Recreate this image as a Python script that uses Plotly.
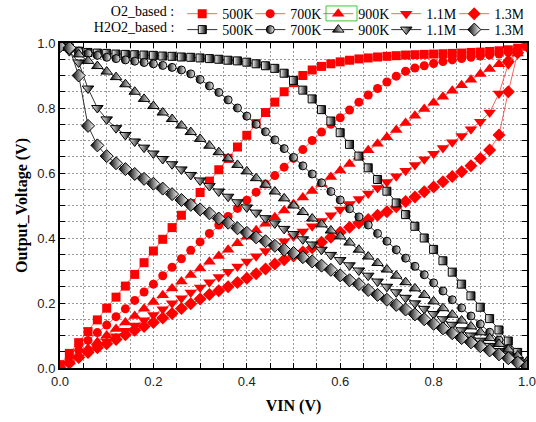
import plotly.graph_objects as go

vin = [0.00, 0.02, 0.04, 0.06, 0.08, 0.10, 0.12, 0.14, 0.16, 0.18,
       0.20, 0.22, 0.24, 0.26, 0.28, 0.30, 0.32, 0.34, 0.36, 0.38,
       0.40, 0.42, 0.44, 0.46, 0.48, 0.50, 0.52, 0.54, 0.56, 0.58,
       0.60, 0.62, 0.64, 0.66, 0.68, 0.70, 0.72, 0.74, 0.76, 0.78,
       0.80, 0.82, 0.84, 0.86, 0.88, 0.90, 0.92, 0.94, 0.96, 0.98, 1.00]

series_names = ["500K", "700K", "900K", "1.1M", "1.3M"]

o2_500k = [0.010, 0.045, 0.078, 0.112, 0.148, 0.184, 0.218, 0.252, 0.288, 0.324,
           0.360, 0.396, 0.432, 0.470, 0.506, 0.540, 0.575, 0.610, 0.645, 0.680,
           0.716, 0.752, 0.786, 0.818, 0.850, 0.878, 0.900, 0.917, 0.928, 0.936,
           0.942, 0.947, 0.951, 0.954, 0.957, 0.959, 0.961, 0.963, 0.964, 0.965,
           0.966, 0.967, 0.968, 0.969, 0.971, 0.972, 0.974, 0.976, 0.979, 0.984, 0.990]
o2_700k = [0.010, 0.030, 0.055, 0.085, 0.109, 0.132, 0.158, 0.182, 0.208, 0.234,
           0.258, 0.284, 0.310, 0.336, 0.362, 0.388, 0.414, 0.440, 0.466, 0.491,
           0.516, 0.541, 0.566, 0.592, 0.618, 0.645, 0.672, 0.700, 0.726, 0.750,
           0.770, 0.794, 0.818, 0.840, 0.860, 0.880, 0.898, 0.913, 0.923, 0.930,
           0.937, 0.943, 0.948, 0.952, 0.956, 0.960, 0.963, 0.966, 0.972, 0.982, 0.990]
o2_900k = [0.000, 0.020, 0.040, 0.060, 0.080, 0.100, 0.120, 0.140, 0.160, 0.182,
           0.203, 0.224, 0.245, 0.266, 0.286, 0.306, 0.327, 0.345, 0.364, 0.384,
           0.404, 0.424, 0.444, 0.464, 0.485, 0.505, 0.525, 0.545, 0.566, 0.588,
           0.608, 0.628, 0.650, 0.670, 0.690, 0.710, 0.732, 0.754, 0.776, 0.797,
           0.816, 0.835, 0.853, 0.870, 0.887, 0.905, 0.920, 0.935, 0.950, 0.968, 0.990]
o2_1_1m = [0.000, 0.015, 0.032, 0.048, 0.065, 0.082, 0.098, 0.115, 0.131, 0.147,
           0.163, 0.181, 0.199, 0.215, 0.232, 0.248, 0.264, 0.280, 0.296, 0.312,
           0.328, 0.344, 0.360, 0.375, 0.390, 0.405, 0.420, 0.436, 0.452, 0.470,
           0.488, 0.505, 0.520, 0.537, 0.554, 0.572, 0.590, 0.607, 0.625, 0.642,
           0.659, 0.677, 0.695, 0.714, 0.735, 0.758, 0.786, 0.845, 0.935, 0.975, 0.990]
o2_1_3m = [0.000, 0.015, 0.032, 0.048, 0.062, 0.075, 0.088, 0.102, 0.116, 0.128,
           0.140, 0.154, 0.168, 0.183, 0.198, 0.212, 0.226, 0.238, 0.250, 0.263,
           0.276, 0.290, 0.305, 0.320, 0.333, 0.345, 0.357, 0.370, 0.387, 0.402,
           0.418, 0.433, 0.446, 0.457, 0.470, 0.481, 0.496, 0.512, 0.526, 0.542,
           0.557, 0.573, 0.589, 0.604, 0.622, 0.645, 0.671, 0.717, 0.850, 0.970, 0.990]

h2o2_500k = [0.990, 0.985, 0.975, 0.971, 0.969, 0.968, 0.966, 0.965, 0.964, 0.963,
             0.962, 0.960, 0.959, 0.957, 0.956, 0.954, 0.952, 0.950, 0.947, 0.945,
             0.941, 0.936, 0.930, 0.922, 0.907, 0.885, 0.855, 0.828, 0.795, 0.760,
             0.724, 0.688, 0.652, 0.616, 0.580, 0.544, 0.508, 0.472, 0.436, 0.400,
             0.365, 0.330, 0.295, 0.258, 0.222, 0.187, 0.152, 0.117, 0.083, 0.048, 0.012]
h2o2_700k = [0.990, 0.983, 0.975, 0.968, 0.962, 0.956, 0.952, 0.948, 0.944, 0.940,
             0.936, 0.931, 0.925, 0.917, 0.905, 0.888, 0.868, 0.848, 0.825, 0.800,
             0.775, 0.750, 0.727, 0.702, 0.675, 0.648, 0.622, 0.597, 0.570, 0.543,
             0.517, 0.490, 0.465, 0.440, 0.414, 0.390, 0.364, 0.338, 0.313, 0.287,
             0.262, 0.237, 0.210, 0.185, 0.160, 0.135, 0.110, 0.086, 0.060, 0.035, 0.010]
h2o2_900k = [0.990, 0.985, 0.965, 0.945, 0.929, 0.912, 0.895, 0.873, 0.850, 0.828,
             0.806, 0.786, 0.766, 0.746, 0.726, 0.705, 0.684, 0.664, 0.645, 0.625,
             0.605, 0.584, 0.564, 0.543, 0.522, 0.500, 0.480, 0.460, 0.442, 0.423,
             0.405, 0.386, 0.364, 0.343, 0.323, 0.303, 0.284, 0.264, 0.245, 0.225,
             0.205, 0.184, 0.164, 0.146, 0.128, 0.110, 0.092, 0.074, 0.057, 0.038, 0.020]
h2o2_1_1m = [0.990, 0.975, 0.940, 0.860, 0.800, 0.765, 0.738, 0.717, 0.697, 0.678,
             0.660, 0.643, 0.627, 0.611, 0.594, 0.577, 0.560, 0.543, 0.527, 0.510,
             0.494, 0.478, 0.461, 0.445, 0.428, 0.412, 0.396, 0.380, 0.364, 0.348,
             0.332, 0.316, 0.300, 0.284, 0.266, 0.250, 0.233, 0.216, 0.199, 0.182,
             0.166, 0.150, 0.133, 0.116, 0.100, 0.084, 0.068, 0.052, 0.038, 0.024, 0.010]
h2o2_1_3m = [0.990, 0.985, 0.900, 0.745, 0.685, 0.652, 0.630, 0.612, 0.597, 0.582,
             0.567, 0.552, 0.535, 0.517, 0.502, 0.488, 0.476, 0.460, 0.447, 0.430,
             0.416, 0.402, 0.390, 0.376, 0.364, 0.354, 0.341, 0.328, 0.315, 0.302,
             0.285, 0.270, 0.258, 0.240, 0.225, 0.210, 0.194, 0.180, 0.165, 0.150,
             0.136, 0.122, 0.107, 0.092, 0.079, 0.067, 0.054, 0.042, 0.030, 0.017, 0.005]

o2_series = [o2_500k, o2_700k, o2_900k, o2_1_1m, o2_1_3m]
h2o2_series = [h2o2_500k, h2o2_700k, h2o2_900k, h2o2_1_1m, h2o2_1_3m]

symbols = ["square", "circle", "triangle-up", "triangle-down", "diamond"]
red_sizes = [9, 9, 11, 11, 10]
blk_sizes = [8, 8, 10, 10, 10]
grad_left_black = [False, True, True, False, True]

fig = go.Figure()

for name, ys, sym, sz in zip(series_names, o2_series, symbols, red_sizes):
    fig.add_trace(go.Scatter(
        x=vin, y=ys, mode="lines+markers", name=name, legend="legend",
        line=dict(color="rgba(255,60,60,0.8)", width=1),
        marker=dict(symbol=sym, size=sz, color="#ff0000",
                    line=dict(width=0)),
    ))

for name, ys, sym, sz, lb in zip(series_names, h2o2_series, symbols, blk_sizes, grad_left_black):
    c1, c2 = ("black", "white") if lb else ("white", "black")
    fig.add_trace(go.Scatter(
        x=vin, y=ys, mode="lines+markers", name=name, legend="legend2",
        line=dict(color="#333333", width=1),
        marker=dict(symbol=sym, size=sz, color=c1,
                    gradient=dict(type="horizontal", color=c2),
                    line=dict(width=1, color="black")),
    ))

axis_common = dict(
    range=[0, 1], showline=True, linewidth=2, linecolor="black", mirror="ticks",
    ticks="inside", ticklen=5, tickwidth=1, tickcolor="black",
    dtick=0.2, tick0=0, tickformat=".1f", automargin=False,
    ticklabeloverflow="allow",
    showgrid=True, gridcolor="#9a9a9a", gridwidth=1, griddash="2px,2px",
    zeroline=False,
    tickfont=dict(family="Liberation Sans, Arial", size=13, color="#222"),
    minor=dict(dtick=0.05, ticks="inside", ticklen=5, tickcolor="black",
               showgrid=True, gridcolor="#9a9a9a", gridwidth=1, griddash="2px,2px"),
)

legend_font = dict(family="Liberation Serif, Times New Roman", size=14, color="black")

fig.update_layout(
    width=536, height=422,
    margin=dict(l=60, r=9, t=43, b=54, autoexpand=False),
    paper_bgcolor="white", plot_bgcolor="white",
    xaxis=dict(axis_common, title=dict(text="<b>VIN (V)</b>", standoff=12,
               font=dict(family="Liberation Serif, Times New Roman", size=16, color="black"))),
    yaxis=dict(axis_common, title=dict(text="<b>Output_Voltage (V)</b>", standoff=6,
               font=dict(family="Liberation Serif, Times New Roman", size=16, color="black"))),
    legend=dict(orientation="h", x=0.991, xanchor="right", y=1.089, yanchor="middle",
                bgcolor="rgba(0,0,0,0)", borderwidth=0,
                entrywidth=23, entrywidthmode="pixels",
                title=dict(text="O2_based :", side="left", font=legend_font),
                font=legend_font, tracegroupgap=0, itemsizing="trace"),
    legend2=dict(orientation="h", x=0.991, xanchor="right", y=1.04, yanchor="middle",
                 bgcolor="rgba(0,0,0,0)", borderwidth=0,
                 entrywidth=23, entrywidthmode="pixels",
                 title=dict(text="H2O2_based :", side="left", font=legend_font),
                 font=legend_font, tracegroupgap=0, itemsizing="trace"),
    showlegend=True,
)

fig.add_shape(type="rect", xref="paper", yref="paper",
              x0=0.5696, x1=0.636, y0=1.068, y1=1.114,
              line=dict(color="#3cc83c", width=1))

fig.write_html("out.html", config={"displayModeBar": False},
               post_script="document.body.style.margin='0';")
